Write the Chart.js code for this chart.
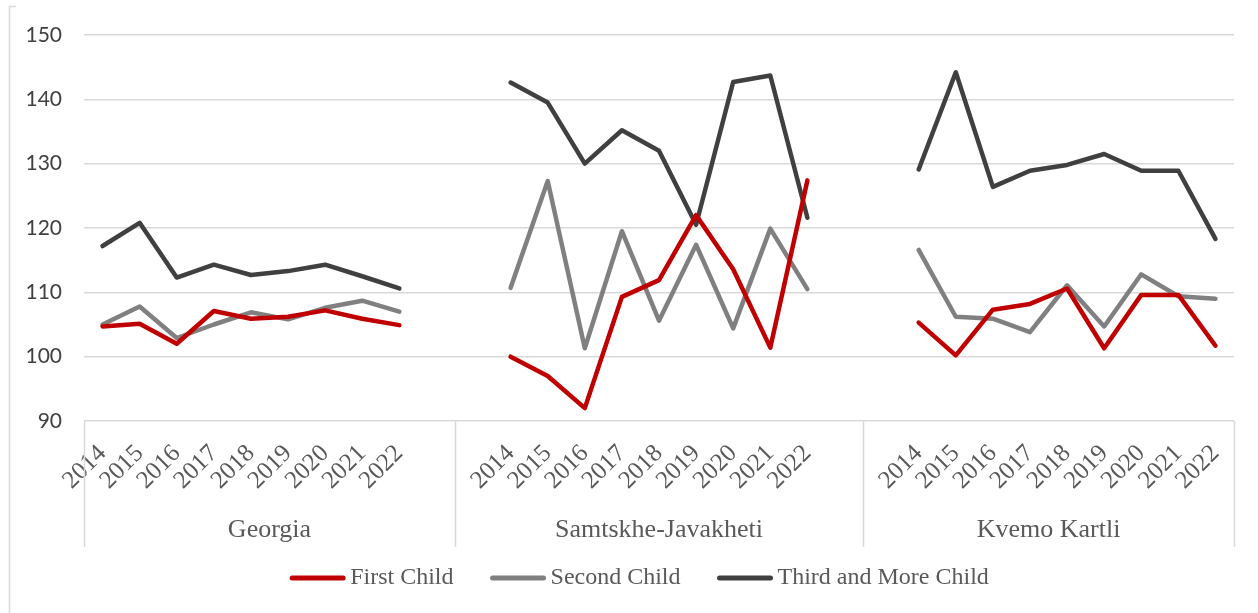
<!DOCTYPE html>
<html>
<head>
<meta charset="utf-8">
<script src="https://cdn.jsdelivr.net/npm/chart.js@4/dist/chart.umd.min.js"></script>
<style>
  body { margin: 0; background: #fff; }
  .wrap { width: 1258px; height: 613px; position: relative; }
</style>
</head>
<body>
<div class="wrap"><canvas id="birthRatio"></canvas></div>
<script>
// values
const years = ['2014', '2015', '2016', '2017', '2018', '2019', '2020', '2021', '2022'];
const regions = ['Georgia', 'Samtskhe-Javakheti', 'Kvemo Kartli'];

const firstGeorgia = [104.7, 105.1, 102.0, 107.1, 105.9, 106.2, 107.2, 105.9, 104.9];
const firstSamtskhe = [100.0, 97.0, 92.0, 109.3, 111.9, 122.0, 113.6, 101.4, 127.4];
const firstKvemo = [105.3, 100.2, 107.3, 108.2, 110.6, 101.3, 109.6, 109.6, 101.7];

const secondGeorgia = [105.0, 107.8, 102.9, 105.0, 106.9, 105.8, 107.6, 108.7, 107.0];
const secondSamtskhe = [110.7, 127.3, 101.3, 119.5, 105.6, 117.4, 104.4, 119.9, 110.5];
const secondKvemo = [116.6, 106.2, 105.9, 103.8, 111.1, 104.7, 112.8, 109.4, 109.0];

const thirdGeorgia = [117.2, 120.8, 112.3, 114.3, 112.7, 113.3, 114.3, 112.5, 110.6];
const thirdSamtskhe = [142.6, 139.5, 130.0, 135.2, 132.0, 120.5, 142.7, 143.7, 121.6];
const thirdKvemo = [129.1, 144.2, 126.4, 128.9, 129.8, 131.5, 128.9, 128.9, 118.3];

const yTicks = [90, 100, 110, 120, 130, 140, 150];

// two empty slots between regions, like the source sheet
const gap = ['', ''];
const labels = [...years, ...gap, ...years, ...gap, ...years];
const joinRows = (a, b, c) => [...a, null, null, ...b, null, null, ...c];
// category index where each region starts/ends (half-steps)
const groupEdges = [-0.5, 9.5, 20.5, 30.5];

const textColor = '#595959';
const lineColor = '#d9d9d9';
const serif = "'Liberation Serif', 'Times New Roman', serif";

// region names + separators under the year ticks, and the line legend
const groupAxis = {
  id: 'groupAxis',
  afterDraw(chart) {
    const ctx = chart.ctx;
    const x = chart.scales.x;
    const top = chart.chartArea.bottom;
    ctx.save();
    ctx.strokeStyle = lineColor;
    ctx.lineWidth = 1.5;
    groupEdges.forEach(function(e) {
      const px = Math.round(x.getPixelForValue(e)) + 0.5;
      ctx.beginPath();
      ctx.moveTo(px, top);
      ctx.lineTo(px, 547);
      ctx.stroke();
    });
    // outer frame corner of the picture
    ctx.beginPath();
    ctx.moveTo(16, 6.5);
    ctx.lineTo(9.5, 6.5);
    ctx.lineTo(9.5, 613);
    ctx.stroke();

    ctx.fillStyle = textColor;
    ctx.font = '26px ' + serif;
    ctx.textAlign = 'center';
    ctx.textBaseline = 'middle';
    regions.forEach(function(name, i) {
      const mid = (x.getPixelForValue(groupEdges[i]) + x.getPixelForValue(groupEdges[i + 1])) / 2;
      ctx.fillText(name, mid, 530);
    });

    // legend
    ctx.font = '24px ' + serif;
    ctx.textAlign = 'left';
    const boxW = 55, boxGap = 5, itemGap = 37, ly = 578;
    const items = chart.data.datasets.map(ds => ({
      text: ds.label, color: ds.borderColor, w: boxW + boxGap + ctx.measureText(ds.label).width
    }));
    const total = items.reduce((s, it) => s + it.w, 0) + itemGap * (items.length - 1);
    let lx = 639.5 - total / 2;
    ctx.lineCap = 'round';
    ctx.lineWidth = 5;
    items.forEach(function(it) {
      ctx.strokeStyle = it.color;
      ctx.beginPath();
      ctx.moveTo(lx + 2, ly);
      ctx.lineTo(lx + boxW - 2, ly);
      ctx.stroke();
      ctx.fillText(it.text, lx + boxW + boxGap, ly);
      lx += it.w + itemGap;
    });
    ctx.restore();
  }
};

const line = (label, data, color) => ({
  label: label,
  data: data,
  borderColor: color,
  backgroundColor: color,
  borderWidth: 4.5,
  pointRadius: 0,
  pointHoverRadius: 0,
  tension: 0,
  spanGaps: false,
  borderCapStyle: 'round',
  borderJoinStyle: 'round'
});

new Chart(document.getElementById('birthRatio'), {
  type: 'line',
  data: {
    labels: labels,
    datasets: [
      line('First Child', joinRows(firstGeorgia, firstSamtskhe, firstKvemo), '#c00000'),
      line('Second Child', joinRows(secondGeorgia, secondSamtskhe, secondKvemo), '#808080'),
      line('Third and More Child', joinRows(thirdGeorgia, thirdSamtskhe, thirdKvemo), '#404040')
    ]
  },
  options: {
    responsive: true,
    maintainAspectRatio: false,
    animation: false,
    layout: { padding: { top: 35, right: 24, bottom: 57, left: 0 } },
    plugins: {
      tooltip: { enabled: false },
      legend: { display: false }
    },
    scales: {
      x: {
        offset: true,
        grid: { display: false },
        border: { display: false },
        ticks: {
          autoSkip: false,
          maxRotation: 45,
          minRotation: 45,
          padding: 10,
          color: textColor,
          font: { family: serif, size: 25 }
        },
        afterFit(scale) { scale.height = 135; }
      },
      y: {
        min: 90,
        max: 150,
        afterBuildTicks(scale) { scale.ticks = yTicks.map(v => ({ value: v })); },
        grid: { color: lineColor, lineWidth: 1.5, drawTicks: false },
        border: { display: false },
        ticks: {
          padding: 22,
          color: '#404040',
          font: { family: 'Lato', size: 21 }
        },
        afterFit(scale) { scale.width = 84; }
      }
    }
  },
  plugins: [groupAxis]
});
</script>
</body>
</html>
